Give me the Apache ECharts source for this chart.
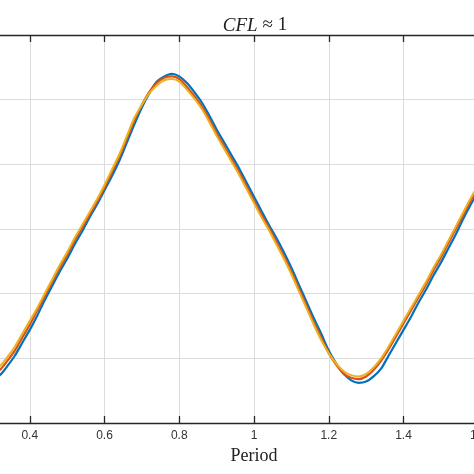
<!DOCTYPE html>
<html>
<head>
<meta charset="utf-8">
<script src="https://cdn.jsdelivr.net/npm/echarts@6/dist/echarts.min.js"></script>
<style>
  html, body { margin: 0; padding: 0; background: #fff; }
  #chart { width: 474px; height: 474px; }
</style>
</head>
<body>
<div id="chart"></div>
<script>
// period values (x), step 0.02
var periods = [0.28, 0.30, 0.32, 0.34, 0.36, 0.38, 0.40, 0.42, 0.44, 0.46, 0.48, 0.50, 0.52, 0.54, 0.56,
  0.58, 0.60, 0.62, 0.64, 0.66, 0.68, 0.70, 0.72, 0.74, 0.76, 0.78, 0.80, 0.82, 0.84, 0.86, 0.88, 0.90,
  0.92, 0.94, 0.96, 0.98, 1.00, 1.02, 1.04, 1.06, 1.08, 1.10, 1.12, 1.14, 1.16, 1.18, 1.20, 1.22, 1.24,
  1.26, 1.28, 1.30, 1.32, 1.34, 1.36, 1.38, 1.40, 1.42, 1.44, 1.46, 1.48, 1.50, 1.52, 1.54, 1.56, 1.58,
  1.60, 1.62, 1.64]

// three runs
var blueVals = [-1.17, -1.15, -1.13, -1.06, -0.98, -0.88, -0.78, -0.67, -0.55, -0.44, -0.33, -0.23, -0.12, -0.02, 0.09,
  0.19, 0.30, 0.41, 0.53, 0.67, 0.81, 0.94, 1.05, 1.14, 1.18, 1.20, 1.18, 1.13, 1.06, 0.98, 0.88, 0.77,
  0.67, 0.57, 0.47, 0.36, 0.25, 0.14, 0.03, -0.07, -0.18, -0.30, -0.43, -0.56, -0.69, -0.81, -0.94, -1.04, -1.12,
  -1.17, -1.19, -1.18, -1.14, -1.08, -0.98, -0.88, -0.78, -0.68, -0.57, -0.47, -0.36, -0.26, -0.15, -0.04, 0.08, 0.19,
  0.29, 0.40, 0.51]
var orangeVals = [-1.14, -1.12, -1.09, -1.02, -0.94, -0.84, -0.74, -0.63, -0.52, -0.41, -0.30, -0.20, -0.09, 0.01, 0.11,
  0.21, 0.32, 0.44, 0.56, 0.70, 0.84, 0.96, 1.06, 1.13, 1.17, 1.18, 1.16, 1.10, 1.03, 0.95, 0.85, 0.74,
  0.64, 0.54, 0.44, 0.33, 0.22, 0.11, 0.01, -0.10, -0.21, -0.33, -0.46, -0.59, -0.72, -0.84, -0.96, -1.05, -1.12,
  -1.15, -1.16, -1.14, -1.09, -1.02, -0.93, -0.83, -0.73, -0.63, -0.53, -0.43, -0.32, -0.22, -0.11, 0.00, 0.11, 0.22,
  0.32, 0.43, 0.54]
var yellowVals = [-1.11, -1.09, -1.06, -0.99, -0.91, -0.81, -0.71, -0.61, -0.50, -0.39, -0.28, -0.18, -0.07, 0.03, 0.13,
  0.23, 0.34, 0.46, 0.58, 0.72, 0.86, 0.96, 1.05, 1.11, 1.15, 1.16, 1.14, 1.08, 1.01, 0.93, 0.83, 0.72,
  0.62, 0.52, 0.42, 0.31, 0.20, 0.09, -0.01, -0.12, -0.23, -0.35, -0.48, -0.61, -0.74, -0.86, -0.96, -1.04, -1.10,
  -1.13, -1.14, -1.12, -1.07, -1.00, -0.91, -0.81, -0.71, -0.61, -0.51, -0.41, -0.30, -0.20, -0.09, 0.02, 0.13, 0.24,
  0.34, 0.45, 0.56]

var colors = ['#0072BD', '#D95319', '#EDB120']

function pairs(xs, ys) {
  return xs.map(function (x, i) { return [x, ys[i]] })
}

var myChart = echarts.init(document.getElementById('chart'))

/* 公共坐标轴样式 */
var axisLineStyle = { color: '#262626', width: 1.3 }

function lineSeries(vals, idx) {
  return {
    type: 'line',
    data: pairs(periods, vals),
    smooth: 0.3,
    showSymbol: false,
    clip: true,
    lineStyle: { color: colors[idx], width: idx === 2 ? 2 : 2.2 },
    z: 2 + idx
  }
}

myChart.setOption({
  animation: false,
  title: {
    text: '{i|CFL} {n|≈ 1}',
    left: 250,
    top: 11,
    textAlign: 'center',
    textStyle: {
      fontWeight: 'normal',
      rich: {
        i: { fontFamily: 'Liberation Serif', fontStyle: 'italic', fontWeight: 'normal', fontSize: 19, color: '#222' },
        n: { fontFamily: 'Liberation Serif', fontWeight: 'normal', fontSize: 19, color: '#222' }
      }
    }
  },
  grid: { left: -45, right: -79, top: 35, bottom: 51, containLabel: false, outerBoundsMode: 'none' },
  xAxis: [
    {
      type: 'value',
      min: 0.2,
      max: 1.8,
      interval: 0.2,
      position: 'bottom',
      axisLine: { onZero: false, lineStyle: axisLineStyle },
      name: 'Period',
      nameLocation: 'middle',
      nameGap: 23,
      nameTextStyle: { fontFamily: 'Liberation Serif', fontSize: 18, color: '#222' },
      axisTick: { inside: true, length: 7, lineStyle: axisLineStyle },
      axisLabel: { fontFamily: 'Liberation Sans', fontSize: 12, color: '#333', margin: 7 },
      splitLine: { show: true, lineStyle: { color: '#dcdcdc', width: 1 } }
    },
    {
      type: 'value',
      min: 0.2,
      max: 1.8,
      interval: 0.2,
      position: 'top',
      axisLine: { onZero: false, lineStyle: axisLineStyle },
      axisTick: { inside: true, length: 7, lineStyle: axisLineStyle },
      axisLabel: { show: false },
      splitLine: { show: false }
    }
  ],
  yAxis: {
    type: 'value',
    min: -1.5,
    max: 1.5,
    interval: 0.5,
    axisLine: { show: false },
    axisTick: { show: false },
    axisLabel: { show: false },
    splitLine: { show: true, lineStyle: { color: '#dcdcdc', width: 1 } }
  },
  series: [
    lineSeries(blueVals, 0),
    lineSeries(orangeVals, 1),
    lineSeries(yellowVals, 2)
  ]
})
</script>
</body>
</html>
